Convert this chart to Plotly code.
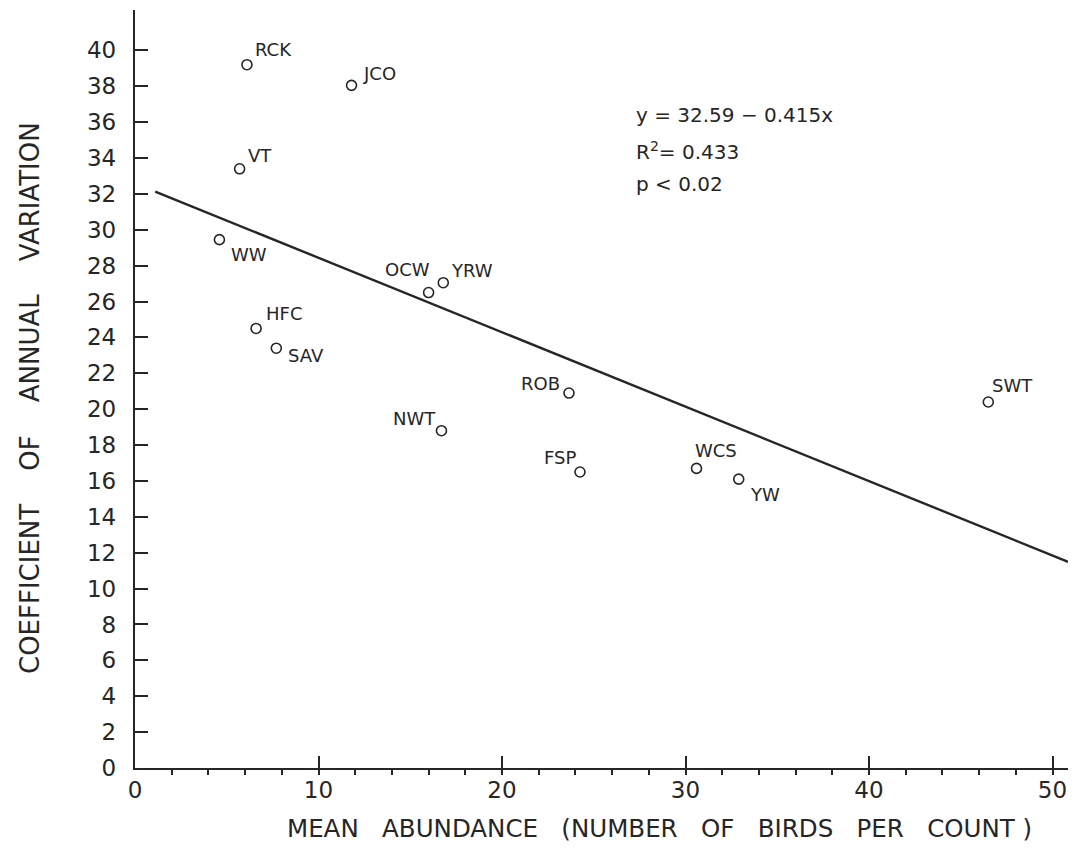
import plotly.graph_objects as go

# ---- data ----
species = ["RCK", "JCO", "VT", "WW", "HFC", "SAV", "OCW", "YRW",
           "NWT", "ROB", "FSP", "WCS", "YW", "SWT"]
mean_abundance = [6.1, 11.8, 5.7, 4.6, 6.6, 7.7, 16.0, 16.8,
                  16.7, 23.65, 24.25, 30.6, 32.9, 46.5]
coef_variation = [39.2, 38.05, 33.4, 29.45, 24.5, 23.4, 26.5, 27.05,
                  18.8, 20.9, 16.5, 16.7, 16.1, 20.4]

fit_x = [1.1, 50.85]
fit_y = [32.13, 11.49]

x_ticks = [0, 10, 20, 30, 40, 50]
y_ticks = list(range(0, 41, 2))

stats_lines = ["y = 32.59 − 0.415x", "R<sup>2</sup>= 0.433", "p &lt; 0.02"]

# ---- label placement (pixel offsets: anchor, dx, dy-down) ----
label_place = {
    "RCK": ("left", 6, -15), "JCO": ("left", 9, -12), "VT": ("left", 6, -13),
    "WW": ("left", 10, 15), "HFC": ("left", 8, -15), "SAV": ("left", 10, 7),
    "OCW": ("right", 3, -23), "YRW": ("left", 6, -12), "NWT": ("right", -3, -12),
    "ROB": ("right", -7, -10), "FSP": ("right", -2, -14), "WCS": ("left", -4, -18),
    "YW": ("left", 9, 15), "SWT": ("left", 2, -17),
}

INK = "#262626"
FONT = "DejaVu Sans"

# page body has an 8px margin: figure is sized to fit the window exactly
W, H = 1068, 841
ML, MR, MT, MB = 127, 0, 2, 81
PW, PH = W - ML - MR, H - MT - MB


def px_x(win_x):
    return (win_x - 8 - ML) / PW


def px_y(win_y):
    return (H - MB - (win_y - 8)) / PH


fig = go.Figure()
fig.add_trace(go.Scatter(x=fit_x, y=fit_y, mode="lines",
                         line=dict(color=INK, width=2.4), hoverinfo="skip",
                         showlegend=False))
fig.add_trace(go.Scatter(x=mean_abundance, y=coef_variation, mode="markers",
                         marker=dict(symbol="circle-open", size=10,
                                     line=dict(color=INK, width=1.6), color=INK),
                         text=species, showlegend=False))

annotations = []
for name, xv, yv in zip(species, mean_abundance, coef_variation):
    anchor, dx, dy = label_place[name]
    annotations.append(dict(x=xv, y=yv, xref="x", yref="y", text=name,
                            showarrow=False, xanchor=anchor, yanchor="middle",
                            xshift=dx, yshift=-dy,
                            font=dict(family=FONT, size=18, color=INK)))

stat_win_y = [115, 151, 184]
for txt, wy in zip(stats_lines, stat_win_y):
    annotations.append(dict(x=px_x(634), y=px_y(wy), xref="paper", yref="paper",
                            text=txt, showarrow=False, xanchor="left",
                            yanchor="middle",
                            font=dict(family=FONT, size=20, color=INK)))

sp = "\u00a0" * 4
annotations.append(dict(x=px_x(30), y=px_y(398), xref="paper", yref="paper",
                        text=f"COEFFICIENT{sp}OF{sp}ANNUAL{sp}VARIATION",
                        textangle=-90, showarrow=False, xanchor="center",
                        yanchor="middle",
                        font=dict(family=FONT, size=26, color=INK)))
sp2 = "\u00a0" * 3
annotations.append(dict(x=px_x(659), y=px_y(828), xref="paper", yref="paper",
                        text=f"MEAN{sp2}ABUNDANCE{sp2}(NUMBER{sp2}OF{sp2}BIRDS{sp2}PER{sp2}COUNT )",
                        showarrow=False, xanchor="center", yanchor="middle",
                        font=dict(family=FONT, size=24.5, color=INK)))

fig.update_layout(
    width=W, height=H,
    margin=dict(l=ML, r=MR, t=MT, b=MB, autoexpand=False),
    paper_bgcolor="white", plot_bgcolor="white",
    annotations=annotations,
    xaxis=dict(range=[0, 51.28], tickvals=x_ticks, ticks="inside", ticklen=12,
               tickwidth=2, tickcolor=INK, showline=True, linecolor=INK,
               linewidth=2.4, showgrid=False, zeroline=False,
               ticklabelstandoff=0, automargin=False,
               minor=dict(ticks="outside", dtick=2, ticklen=5, tickwidth=2,
                          tickcolor=INK, showgrid=False),
               tickfont=dict(family=FONT, size=23, color=INK)),
    yaxis=dict(range=[0, 42.25], tickvals=y_ticks, ticks="inside", ticklen=13,
               tickwidth=2, tickcolor=INK, showline=True, linecolor=INK,
               linewidth=2.4, showgrid=False, zeroline=False,
               ticklabelstandoff=12, automargin=False,
               tickfont=dict(family=FONT, size=23, color=INK)),
)

fig.write_html("out.html")
